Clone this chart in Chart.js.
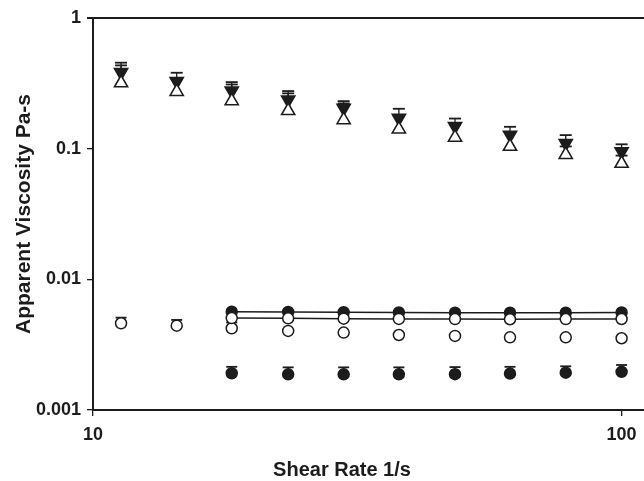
<!DOCTYPE html>
<html>
<head>
<meta charset="utf-8">
<script src="https://cdn.jsdelivr.net/npm/chart.js@4/dist/chart.umd.min.js"></script>
<style>
  html, body { margin: 0; padding: 0; background: #fff; overflow: hidden; }
  #wrap { width: 680px; height: 481px; }
</style>
</head>
<body>
<div id="wrap"><canvas id="myChart" width="680" height="481"></canvas></div>
<script>
// shear rate (1/s), same for every series
const shearRate = [11.3, 14.4, 18.3, 23.4, 29.8, 37.9, 48.4, 61.5, 78.4, 100];

// triangles
const filledTri   = [0.383, 0.327, 0.277, 0.236, 0.204, 0.171, 0.148, 0.127, 0.110, 0.095];
const filledTriHi = [0.455, 0.381, 0.323, 0.276, 0.231, 0.202, 0.170, 0.147, 0.127, 0.108];
const openTri     = [0.318, 0.273, 0.232, 0.195, 0.166, 0.141, 0.122, 0.104, 0.090, 0.077];
const openTriHi   = [0.434, 0.340, 0.310, 0.265, 0.222, 0.178, 0.153, 0.133, 0.104, 0.0885];

// circles joined by lines
const filledCircUp = [null, null, 0.00565, 0.00562, 0.0056, 0.00558, 0.00556, 0.00555, 0.00556, 0.00558];
const openCircUp   = [null, null, 0.00505, 0.00503, 0.0050, 0.00498, 0.00496, 0.00495, 0.00496, 0.00497];

// lower circles
const openCircLow     = [0.00461, 0.00442, 0.00422, 0.00403, 0.00391, 0.00375, 0.00369, 0.00360, 0.00360, 0.00354];
const openCircLowHi   = [0.00509, 0.00489, 0.00468, null, null, null, null, null, null, null];
const filledCircLow   = [null, null, 0.00191, 0.001875, 0.001875, 0.001875, 0.00188, 0.00190, 0.00193, 0.00196];
const filledCircLowHi = [null, null, 0.00214, 0.00212, 0.00212, 0.00212, 0.00213, 0.00214, 0.00216, 0.00221];

// axes
const xTicks = [10, 100];
const xTickLabels = ['10', '100'];
const yTicks = [0.001, 0.01, 0.1, 1];
const yTickLabels = ['0.001', '0.01', '0.1', '1'];
const xTitle = 'Shear Rate 1/s';

const ink = '#1c1c1c';
const fontFam = "'Liberation Sans', Arial, sans-serif";

function pts(vals, hi) {
  return shearRate
    .map((x, i) => ({ x: x, y: vals[i], hi: hi ? hi[i] : null }))
    .filter(p => p.y != null);
}

// error bars (upper side only), drawn under the markers
const errorBars = {
  id: 'errorBars',
  beforeDatasetsDraw(chart) {
    const { ctx, scales: { y } } = chart;
    ctx.save();
    ctx.strokeStyle = ink;
    chart.data.datasets.forEach((ds, i) => {
      const meta = chart.getDatasetMeta(i);
      meta.data.forEach((el, j) => {
        const hi = ds.data[j].hi;
        if (hi == null) return;
        const py = y.getPixelForValue(hi);
        const w = ds.capWidth || 11;
        ctx.lineWidth = 1.3;
        ctx.beginPath();
        ctx.moveTo(el.x, el.y);
        ctx.lineTo(el.x, py);
        ctx.stroke();
        ctx.lineWidth = 1.8;
        ctx.beginPath();
        ctx.moveTo(el.x - w / 2, py);
        ctx.lineTo(el.x + w / 2, py);
        ctx.stroke();
      });
    });
    ctx.restore();
  }
};

// top frame line + x title (the original figure is cropped on the right,
// so its title sits left of the visible plot centre)
const frameAndTitle = {
  id: 'frameAndTitle',
  afterDraw(chart) {
    const { ctx, chartArea: { left, right, top } } = chart;
    ctx.save();
    ctx.strokeStyle = ink;
    ctx.lineWidth = 2;
    ctx.beginPath();
    ctx.moveTo(left - 6, top);
    ctx.lineTo(right, top);
    ctx.stroke();

    ctx.fillStyle = ink;
    ctx.font = 'bold 20px ' + fontFam;
    ctx.textAlign = 'center';
    ctx.textBaseline = 'middle';
    ctx.fillText(xTitle, 342, 470);
    ctx.restore();
  }
};

const data = {
  datasets: [
    {
      data: pts(openCircUp), showLine: true, order: 1,
      pointStyle: 'circle', pointRadius: 5.5, pointBackgroundColor: '#fff',
      pointBorderColor: ink, pointBorderWidth: 1.5, borderColor: ink, borderWidth: 1.5
    },
    {
      data: pts(filledCircUp), showLine: true, order: 2,
      pointStyle: 'circle', pointRadius: 5.5, pointBackgroundColor: ink,
      pointBorderColor: ink, pointBorderWidth: 1.5, borderColor: ink, borderWidth: 1.5
    },
    {
      data: pts(openCircLow, openCircLowHi), showLine: false, order: 3, capWidth: 11,
      pointStyle: 'circle', pointRadius: 5.5, pointBackgroundColor: '#fff',
      pointBorderColor: ink, pointBorderWidth: 1.5
    },
    {
      data: pts(filledCircLow, filledCircLowHi), showLine: false, order: 4, capWidth: 11,
      pointStyle: 'circle', pointRadius: 5.5, pointBackgroundColor: ink,
      pointBorderColor: ink, pointBorderWidth: 1.5
    },
    {
      data: pts(openTri, openTriHi), showLine: false, order: 5, capWidth: 12,
      pointStyle: 'triangle', pointRadius: 7.6, pointBackgroundColor: '#fff',
      pointBorderColor: ink, pointBorderWidth: 1.6
    },
    {
      data: pts(filledTri, filledTriHi), showLine: false, order: 6, capWidth: 12,
      pointStyle: 'triangle', pointRotation: 180, pointRadius: 7.6, pointBackgroundColor: ink,
      pointBorderColor: ink, pointBorderWidth: 1.6
    }
  ]
};

const config = {
  type: 'scatter',
  data,
  options: {
    responsive: false,
    animation: false,
    layout: { padding: { top: 18, right: 0, bottom: 0, left: 0 } },
    plugins: {
      legend: { display: false },
      tooltip: { enabled: false }
    },
    scales: {
      x: {
        type: 'logarithmic',
        min: 10,
        max: 123.9,
        afterBuildTicks: (s) => { s.ticks = xTicks.map(v => ({ value: v })); },
        afterFit: (s) => { s.height = 71; },
        ticks: {
          callback: (v) => xTickLabels[xTicks.indexOf(v)],
          color: ink, padding: 8, maxRotation: 0,
          font: { family: fontFam, size: 18, weight: 'bold' }
        },
        grid: { display: true, drawOnChartArea: false, drawTicks: true, tickLength: 6, color: ink, lineWidth: 1.3 },
        border: { display: true, color: ink, width: 2 },
        title: { display: false }
      },
      y: {
        type: 'logarithmic',
        min: 0.001,
        max: 1,
        afterBuildTicks: (s) => { s.ticks = yTicks.map(v => ({ value: v })); },
        afterFit: (s) => { s.width = 93; },
        ticks: {
          callback: (v) => yTickLabels[yTicks.indexOf(v)],
          color: ink, padding: 6,
          font: { family: fontFam, size: 18, weight: 'bold' }
        },
        grid: { display: true, drawOnChartArea: false, drawTicks: true, tickLength: 6, color: ink, lineWidth: 1.3 },
        border: { display: true, color: ink, width: 2 },
        title: {
          display: true, text: 'Apparent Viscosity Pa-s', color: ink,
          font: { family: fontFam, size: 21, weight: 'bold', lineHeight: 1 },
          padding: { top: 14, bottom: 0 }
        }
      }
    }
  },
  plugins: [errorBars, frameAndTitle]
};

const myChart = new Chart(document.getElementById('myChart'), config);
</script>
</body>
</html>
